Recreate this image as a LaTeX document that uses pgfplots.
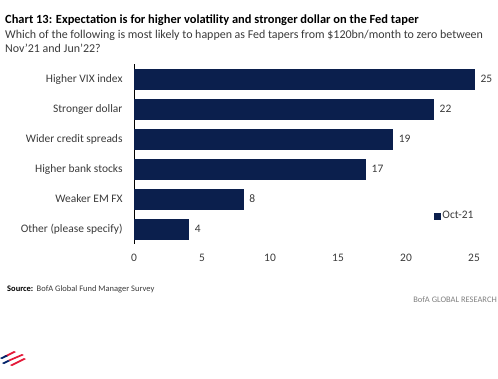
\documentclass[border=0pt]{standalone}
\usepackage{fontspec}
\setmainfont{Carlito}
\usepackage{pgfplots}
\pgfplotsset{compat=1.18}
\definecolor{navy}{HTML}{0B1F4D}
\definecolor{txt}{HTML}{3A3A3A}
\definecolor{bofared}{HTML}{E31837}
\definecolor{bofablue}{HTML}{012169}
\begin{document}
\begin{tikzpicture}[x=1bp,y=1bp]
\path[use as bounding box] (0,0) rectangle (498,-378);
% titles
\node[anchor=base west,inner sep=0,font=\fontsize{12.5}{14}\selectfont\bfseries,text=black] at (5,-23) {Chart 13: Expectation is for higher volatility and stronger dollar on the Fed taper};
\node[anchor=base west,inner sep=0,font=\fontsize{12}{14}\selectfont,text=txt] at (5,-38) {Which of the following is most likely to happen as Fed tapers from \$120bn/month to zero between};
\node[anchor=base west,inner sep=0,font=\fontsize{12}{14}\selectfont,text=txt] at (5,-52) {Nov'21 and Jun'22?};
\begin{axis}[
  at={(134bp,-244bp)}, anchor=south west,
  scale only axis, width=340bp, height=180bp,
  xbar, bar width=20bp,
  xmin=0, xmax=25,
  ymin=-0.5, ymax=5.5, y dir=reverse,
  ytick={0,1,2,3,4,5},
  yticklabels={Higher VIX index,Stronger dollar,Wider credit spreads,Higher bank stocks,Weaker EM FX,Other (please specify)},
  xtick={0,5,10,15,20,25},
  axis x line*=bottom,
  axis y line*=left,
  y axis line style={draw=black, line width=0.8pt, -},
  x axis line style={draw=none, -},
  major tick length=0pt,
  xticklabel style={font=\fontsize{11.5}{13}\selectfont, text=txt, yshift=-7bp},
  yticklabel style={font=\fontsize{11.5}{13}\selectfont, text=txt, xshift=-8bp},
  /pgf/number format/assume math mode=true,
  nodes near coords,
  every node near coord/.append style={font=\fontsize{11.5}{13}\selectfont, text=txt, xshift=3bp},
  legend style={at={(0.882,0.156)}, anchor=west, draw=none, fill=none, inner sep=0pt, font=\fontsize{11.5}{13}\selectfont, text=txt},
  legend image code/.code={\fill[navy] (0bp,-3bp) rectangle (6bp,3bp);},
  clip=false,
]
\addplot[fill=navy, draw=navy] coordinates {(25,0) (22,1) (19,2) (17,3) (8,4) (4,5)};
\addlegendentry{Oct-21}
\end{axis}
\node[anchor=base west,inner sep=0,font=\fontsize{8.5}{10}\selectfont\bfseries,text=black] (src) at (7,-291) {Source:};
\node[anchor=base west,inner sep=0,font=\fontsize{8.5}{10}\selectfont,text=txt] at ([xshift=3bp]src.base east) {BofA Global Fund Manager Survey};
\node[anchor=base east,inner sep=0,font=\fontsize{8.5}{10}\selectfont,text=gray] at (497,-302) {BofA GLOBAL RESEARCH};
% logo
\begin{scope}[shift={(0,-360)}]
\fill[bofared] (4,4) -- (14,9) -- (16,8) -- (6,3) -- cycle;
\fill[bofared] (8,0) -- (22,6) -- (24,5) -- (10,-1) -- cycle;
\fill[bofared] (10,-5) -- (24,2) -- (26,1) -- (12,-6) -- cycle;
\fill[bofablue] (0,2) -- (6,5) -- (8,4) -- (2,1) -- cycle;
\fill[bofablue] (2,-3) -- (8,0) -- (10,-1) -- (4,-4) -- cycle;
\end{scope}
\end{tikzpicture}
\end{document}
